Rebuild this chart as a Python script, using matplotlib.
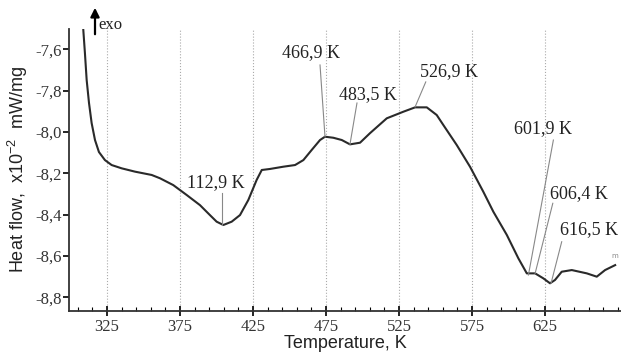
import matplotlib
matplotlib.use("Agg")
import matplotlib.pyplot as plt
import numpy as np

plt.rcParams['mathtext.fontset'] = 'custom'
plt.rcParams['mathtext.rm'] = 'Liberation Sans'
plt.rcParams['mathtext.it'] = 'Liberation Sans:italic'

# DSC curve (temperature K, heat flow x1e-2 mW/mg)
temperature = [308.8, 309.9, 311.1, 312.7, 314.5, 316.8, 319.5, 323.6, 328.2, 335.1,
               344.2, 355.6, 361.3, 370.4, 379.6, 388.7, 395.5, 400.1, 404.7, 410.4,
               416.1, 421.8, 427.5, 431.0, 436.6, 445.8, 453.8, 459.5, 465.2, 470.9,
               474.3, 480.0, 485.8, 491.4, 498.3, 505.1, 516.6, 528.0, 536.0, 544.0,
               550.8, 555.3, 564.5, 573.6, 582.7, 589.6, 598.8, 606.7, 612.5, 618.2,
               623.8, 628.4, 631.8, 636.4, 643.3, 653.6, 660.4, 666.1, 673.0]
heat_flow = [-7.507, -7.618, -7.749, -7.860, -7.957, -8.039, -8.097, -8.136, -8.160, -8.176,
             -8.192, -8.208, -8.224, -8.257, -8.305, -8.354, -8.402, -8.434, -8.450, -8.434,
             -8.402, -8.329, -8.232, -8.184, -8.179, -8.168, -8.160, -8.136, -8.087, -8.039,
             -8.023, -8.028, -8.039, -8.060, -8.052, -8.006, -7.934, -7.902, -7.881, -7.881,
             -7.918, -7.966, -8.063, -8.168, -8.289, -8.386, -8.498, -8.611, -8.684, -8.684,
             -8.708, -8.732, -8.716, -8.676, -8.668, -8.684, -8.700, -8.668, -8.644]

# annotations: label text, leader start on curve, leader end, label centre (T, H)
peak_labels = ["112,9 K", "466,9 K", "483,5 K", "526,9 K", "601,9 K", "606,4 K", "616,5 K"]
peak_points = [(403.8, -8.450), (474.3, -8.023), (491.4, -8.060), (536.0, -7.879),
               (613.6, -8.692), (618.2, -8.684), (629.1, -8.732)]
line_tops = [(403.8, -8.296), (470.9, -7.676), (496.2, -7.860), (543.3, -7.758),
             (630.7, -8.039), (630.3, -8.345), (636.4, -8.531)]
label_centres = [(399.7, -8.247), (464.7, -7.618), (503.4, -7.821), (559.2, -7.710),
                 (623.3, -7.982), (648.3, -8.297), (655.1, -8.474)]

xticks = [325, 375, 425, 475, 525, 575, 625]
yticks = [-7.6, -7.8, -8.0, -8.2, -8.4, -8.6, -8.8]
ytick_labels = ["-7,6", "-7,8", "-8,0", "-8,2", "-8,4", "-8,6", "-8,8"]

fig = plt.figure(figsize=(6.21, 3.60), dpi=100)
ax = fig.add_axes([69/621, 1-311/360, 1-69/621, (311-29)/360])

ax.plot(temperature, heat_flow, color='#2a2a2a', lw=1.5, solid_joinstyle='round')

ax.set_xlim(299, 677)
ax.set_ylim(-8.866, -7.502)

ax.set_xticks(xticks)
ax.set_xticks(np.arange(305, 677, 10), minor=True)
ax.set_xticklabels([str(t) for t in xticks], family='Liberation Serif', fontsize=12, color='#333333')
ax.set_yticks(yticks)
ax.set_yticklabels(ytick_labels, family='Liberation Serif', fontsize=12, color='#333333')

ax.tick_params(axis='x', which='major', direction='inout', length=7, width=1.2, pad=2)
ax.tick_params(axis='x', which='minor', direction='in', length=3, width=0.8)
ax.tick_params(axis='y', which='major', direction='out', length=4, width=1.2, pad=1)

for s in ['top', 'right']:
    ax.spines[s].set_visible(False)
for s in ['left', 'bottom']:
    ax.spines[s].set_linewidth(1.3)
    ax.spines[s].set_color('#333333')

ax.grid(axis='x', which='major', linestyle=':', color='#aaaaaa', lw=0.8)
ax.set_axisbelow(True)

ax.set_xlabel("Temperature, K", family='Liberation Sans', fontsize=13, labelpad=0, color='#222222')
ax.set_ylabel(r"Heat flow,  x10$^{\mathregular{-2}}$  mW/mg", family='Liberation Sans', fontsize=13,
              labelpad=4, color='#222222')

for lab, pt, lt, lc in zip(peak_labels, peak_points, line_tops, label_centres):
    ax.plot([pt[0], lt[0]], [pt[1], lt[1]], color='#888888', lw=0.8)
    ax.text(lc[0], lc[1], lab, family='Liberation Serif', fontsize=13, ha='center', va='center',
            color='#222222')

ax.text(673, -8.615, "m", fontsize=5, color='#888888', ha='center', va='bottom')

# exo arrow
fig.patches.append(matplotlib.patches.FancyArrowPatch(
    (95/621, 1-37/360), (95/621, 1-5/360), transform=fig.transFigure,
    arrowstyle='-|>', mutation_scale=13, color='black', lw=1.6))
fig.text(98/621, 1-25/360, "exo", family='Liberation Serif', fontsize=12, va='center', ha='left',
         color='#222222')

fig.savefig("out.png", dpi=100)
